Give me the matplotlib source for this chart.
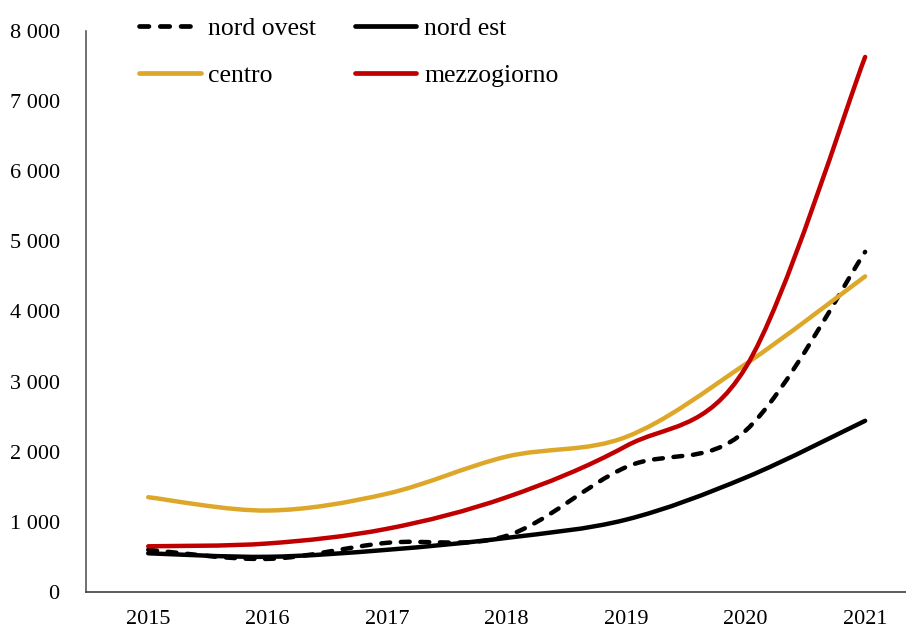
import numpy as np
import matplotlib.pyplot as plt
from matplotlib.path import Path
from matplotlib.patches import PathPatch
from matplotlib.lines import Line2D

plt.rcParams['font.family'] = ['Liberation Serif', 'DejaVu Serif']

years = ['2015', '2016', '2017', '2018', '2019', '2020', '2021']
nord_ovest = [600, 470, 700, 800, 1780, 2300, 4850]
nord_est = [550, 500, 600, 770, 1030, 1630, 2440]
centro = [1350, 1160, 1400, 1930, 2210, 3250, 4500]
mezzogiorno = [650, 690, 900, 1350, 2080, 3200, 7630]


def smooth_path(xs, ys):
    # bezier curve through the points, like the "smoothed line" option in a spreadsheet
    p = np.column_stack([xs, ys]).astype(float)
    n = len(p)
    verts = [p[0]]
    codes = [Path.MOVETO]
    for i in range(n - 1):
        p0 = p[i - 1] if i > 0 else p[i]
        p3 = p[i + 2] if i + 2 < n else p[i + 1]
        c1 = p[i] + (p[i + 1] - p0) / 6
        c2 = p[i + 1] - (p3 - p[i]) / 6
        verts += [c1, c2, p[i + 1]]
        codes += [Path.CURVE4] * 3
    return Path(verts, codes)


fig = plt.figure(figsize=(9.06, 6.33), dpi=100)
ax = fig.add_axes([0.095, 0.065, 0.91, 0.886])

x = np.arange(len(years))
series = [
    ('nord ovest', nord_ovest, 'black', (0, (2, 2.4))),
    ('nord est', nord_est, 'black', '-'),
    ('centro', centro, '#DDA82A', '-'),
    ('mezzogiorno', mezzogiorno, '#C00000', '-'),
]
handles = {}
for name, vals, col, ls in series:
    patch = PathPatch(smooth_path(x, vals), fill=False, edgecolor=col, lw=3.2,
                      linestyle=ls, capstyle='round', joinstyle='round')
    ax.add_patch(patch)
    handles[name] = Line2D([], [], color=col, lw=3.4, linestyle=ls,
                           dash_capstyle='round', solid_capstyle='round', label=name)

ax.set_xlim(-0.52, 6.38)
ax.set_ylim(0, 8000)
ax.set_xticks(x)
ax.set_xticklabels(years)
yt = np.arange(0, 8001, 1000)
ax.set_yticks(yt)
ax.set_yticklabels([f'{v:,}'.replace(',', ' ') for v in yt])
ax.tick_params(axis='both', length=0, labelsize=16)
ax.tick_params(axis='y', pad=19)
ax.tick_params(axis='x', pad=13)

for s in ['top', 'right']:
    ax.spines[s].set_visible(False)
ax.spines['left'].set_color('#595959')
ax.spines['bottom'].set_color('#404040')
ax.spines['left'].set_linewidth(1.2)
ax.spines['bottom'].set_linewidth(1.2)

order = ['nord ovest', 'centro', 'nord est', 'mezzogiorno']
ax.legend(handles=[handles[k] for k in order], ncol=2, loc='upper left',
          bbox_to_anchor=(0.036, 1.067), frameon=False, fontsize=18.5,
          handlelength=2.4, handletextpad=0.3, columnspacing=1.5,
          labelspacing=0.95)

fig.savefig('out.png', dpi=100)
